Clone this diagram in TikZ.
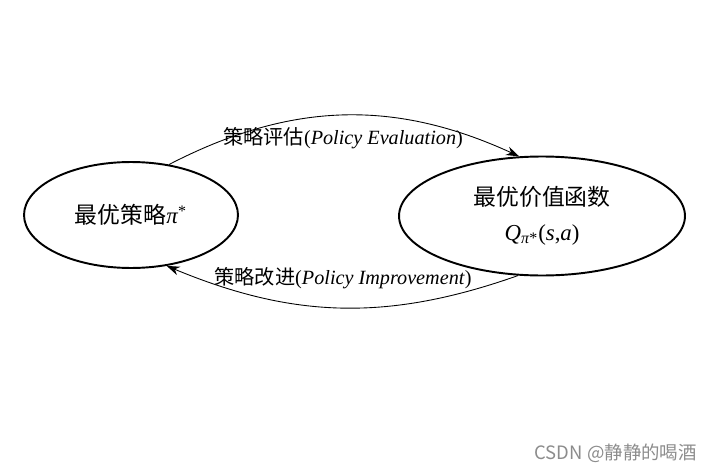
\documentclass[tikz,border=0pt]{standalone}
\usepackage{fontspec}
\setmainfont{Liberation Serif}
\newfontfamily\cjk{Noto Sans CJK SC}
\usetikzlibrary{arrows.meta,shapes.geometric}
\tikzset{
  state/.style={ellipse, draw=black, line width=1.1pt, inner sep=0pt,
                align=center, font=\fontsize{13}{17}\selectfont},
  flow/.style={-{Stealth[length=2.6mm,width=1.8mm]}, line width=0.5pt},
  flowlbl/.style={font=\fontsize{11.5}{13}\selectfont, inner sep=1pt},
  wmark/.style={font=\fontsize{10.5}{12}\selectfont\cjk, text=black!45},
}

\begin{document}
\begin{tikzpicture}[x=0.02cm,y=-0.02cm]
\useasboundingbox (0,0) rectangle (719,473);

% ============================ two states ==============================
\node[state, minimum width=4.28cm, minimum height=2.12cm] (pol) at (131,215)
  {{\cjk 最优策略}\textit{π}\textsuperscript{*}};
\node[state, minimum width=5.72cm, minimum height=2.38cm] (val) at (542,216)
  {{\cjk 最优价值函数}\\[1mm]
   \textit{Q}\textsubscript{\textit{π}*}(\textit{s},\textit{a})};

% ============================ the two arcs =============================
\draw[flow] (pol.53) to[bend left=26] (val.111);
\draw[flow] (val.248) to[bend left=21] (pol.305);

\node[flowlbl] (evl) at (343,138) {{\cjk 策略评估}(\textit{Policy Evaluation})};
\node[flowlbl] (imp) at (343,278) {{\cjk 策略改进}(\textit{Policy Improvement})};

% watermark
\node[wmark, anchor=east] (wm) at (703,453) {CSDN @静静的喝酒};

\end{tikzpicture}
\end{document}
